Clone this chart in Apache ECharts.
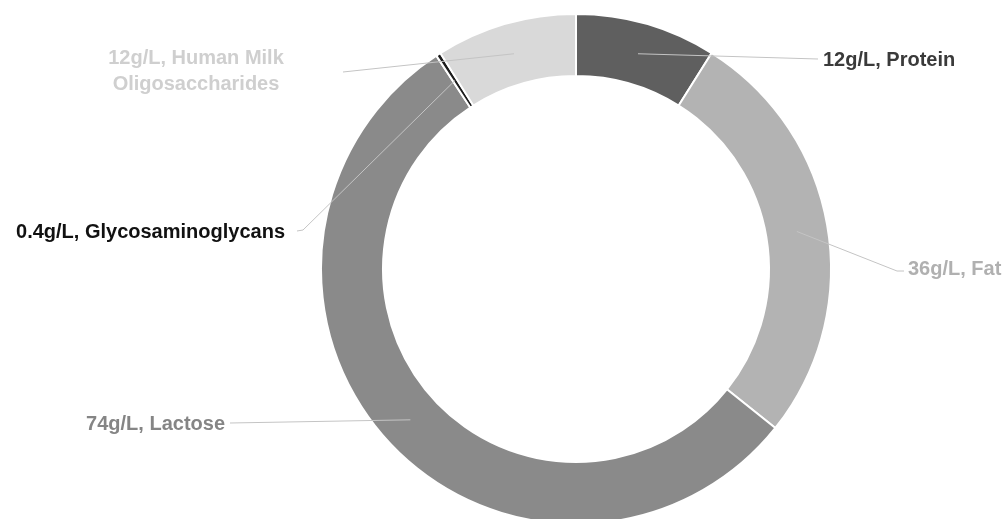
<!DOCTYPE html>
<html>
<head>
<meta charset="utf-8">
<script src="https://cdn.jsdelivr.net/npm/echarts@6/dist/echarts.min.js"></script>
<style>
  html, body { margin: 0; padding: 0; background: #fff; }
  #chart { width: 1005px; height: 519px; }
</style>
</head>
<body>
<div id="chart"></div>
<script>
// milk composition, g/L
const categories = ['Protein', 'Fat', 'Lactose', 'Glycosaminoglycans', 'Human Milk Oligosaccharides'];
const values = [12, 36, 74, 0.4, 12];
const labelTexts = [
  '12g/L, Protein',
  '36g/L, Fat',
  '74g/L, Lactose',
  '0.4g/L, Glycosaminoglycans',
  '12g/L, Human Milk\nOligosaccharides'
];
const sliceColors = ['#5f5f5f', '#b3b3b3', '#8a8a8a', '#1c1c1c', '#d9d9d9'];
const labelColors = ['#3a3a3a', '#b0b0b0', '#858585', '#111111', '#cfcfcf'];

// where each label sits and where its guide line ends
const labelPlace = [
  { x: 823, y: 60, align: 'left', end: [818, 59] },
  { x: 908, y: 269, align: 'left', bend: [897, 271], end: [904, 271] },
  { x: 225, y: 424, align: 'right', end: [230, 423] },
  { x: 285, y: 232, align: 'right', bend: [303, 230], end: [297, 231] },
  { x: 196, y: 71, align: 'center', end: [343, 72] }
];

const chart = echarts.init(document.getElementById('chart'));
const center = [576, 269];

const pieData = categories.map((name, i) => ({
  name: name,
  value: values[i],
  itemStyle: { color: sliceColors[i] }
}));

chart.setOption({
  animation: false,
  series: [
    {
      type: 'pie',
      center: center,
      radius: [193, 255],
      startAngle: 90,
      clockwise: true,
      silent: true,
      avoidLabelOverlap: false,
      itemStyle: { borderColor: '#fff', borderWidth: 2 },
      label: { show: false },
      labelLine: { show: false },
      data: pieData
    },
    {
      // invisible copy, only carries the labels and their leader lines
      type: 'pie',
      center: center,
      radius: [0, 224],
      startAngle: 90,
      clockwise: true,
      silent: true,
      z: 5,
      avoidLabelOverlap: false,
      itemStyle: { color: 'rgba(0,0,0,0)', borderWidth: 0 },
      label: {
        show: true,
        position: 'outside',
        fontFamily: 'Liberation Sans',
        fontWeight: 'bold',
        fontSize: 20,
        lineHeight: 26,
        formatter: (p) => labelTexts[p.dataIndex]
      },
      labelLine: {
        show: true,
        length: 10,
        length2: 10,
        lineStyle: { color: '#c4c4c4', width: 1 }
      },
      labelLayout: function (params) {
        const lp = labelPlace[params.dataIndex];
        const start = params.labelLinePoints ? params.labelLinePoints[0] : lp.end;
        const pts = [start];
        if (lp.bend) pts.push(lp.bend);
        pts.push(lp.end);
        return {
          x: lp.x,
          y: lp.y,
          align: lp.align,
          verticalAlign: 'middle',
          labelLinePoints: pts
        };
      },
      data: categories.map((name, i) => ({
        name: name,
        value: values[i],
        label: { color: labelColors[i], align: labelPlace[i].align }
      }))
    }
  ]
});
</script>
</body>
</html>
